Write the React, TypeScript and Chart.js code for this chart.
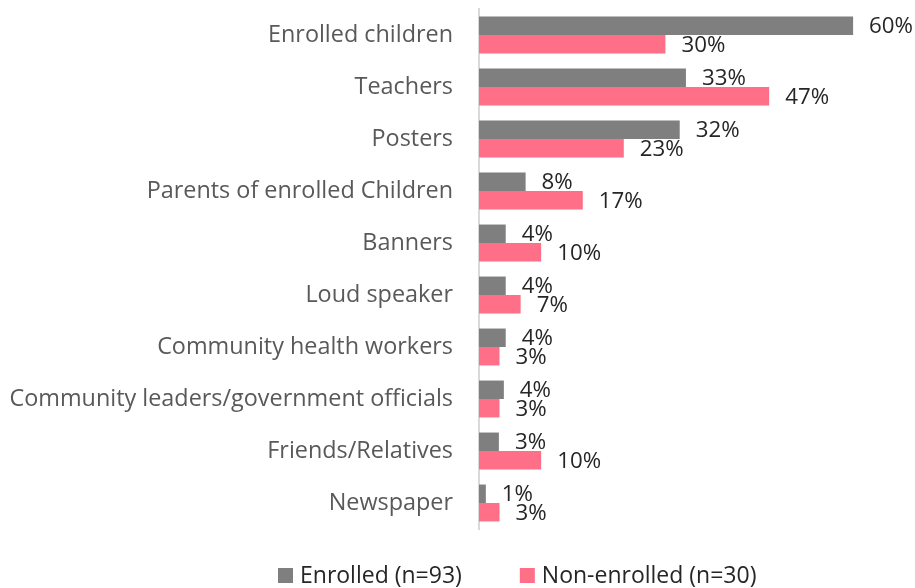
import React, { useEffect, useRef } from "react";
import { Chart, registerables } from "chart.js";

Chart.register(...registerables);

const categories = [
  "Enrolled children",
  "Teachers",
  "Posters",
  "Parents of enrolled Children",
  "Banners",
  "Loud speaker",
  "Community health workers",
  "Community leaders/government officials",
  "Friends/Relatives",
  "Newspaper",
];
const enrolledLabel = "Enrolled (n=93)";
const nonEnrolledLabel = "Non-enrolled (n=30)";
const enrolled = [60.2, 33.3, 32.3, 7.5, 4.3, 4.3, 4.3, 4.0, 3.2, 1.1];
const nonEnrolled = [30.0, 46.7, 23.3, 16.7, 10.0, 6.7, 3.3, 3.3, 10.0, 3.3];

const GREY = "#7f7f7f";
const PINK = "#ff6f87";
const FONT = "'Open Sans', sans-serif";

const dataLabelPlugin = {
  id: "dataLabels",
  afterDatasetsDraw(chart: any) {
    const ctx = chart.ctx;
    ctx.save();
    ctx.font = `22.3px ${FONT}`;
    ctx.fillStyle = "#262626";
    ctx.textAlign = "left";
    ctx.textBaseline = "middle";
    chart.data.datasets.forEach((ds: any, di: number) => {
      const meta = chart.getDatasetMeta(di);
      meta.data.forEach((bar: any, i: number) => {
        const v = ds.data[i];
        ctx.fillText(`${Math.round(v)}%`, bar.x + 16, bar.y + 1);
      });
    });
    ctx.restore();
  },
};

const legendPlugin = {
  id: "customLegend",
  afterDraw(chart: any) {
    const ctx = chart.ctx;
    ctx.save();
    ctx.font = `23px ${FONT}`;
    ctx.textBaseline = "middle";
    ctx.textAlign = "left";
    let x = 278;
    const y = 576;
    chart.data.datasets.forEach((ds: any) => {
      ctx.fillStyle = ds.backgroundColor;
      ctx.fillRect(x, y - 8, 15, 15);
      ctx.fillStyle = "#262626";
      ctx.fillText(ds.label, x + 22, y);
      x += 22 + ctx.measureText(ds.label).width + 58;
    });
    ctx.restore();
  },
};

export default function App() {
  const ref = useRef<HTMLCanvasElement>(null);
  useEffect(() => {
    if (!ref.current) return;
    const chart = new Chart(ref.current, {
      type: "bar",
      data: {
        labels: categories,
        datasets: [
          { label: enrolledLabel, data: enrolled, backgroundColor: GREY, categoryPercentage: 0.71, barPercentage: 1 },
          { label: nonEnrolledLabel, data: nonEnrolled, backgroundColor: PINK, categoryPercentage: 0.71, barPercentage: 1 },
        ],
      },
      options: {
        indexAxis: "y",
        responsive: false,
        animation: false,
        layout: { padding: { top: 9, bottom: 59, left: 0, right: 1 } },
        plugins: { legend: { display: false }, tooltip: { enabled: false } },
        scales: {
          x: { display: false, min: 0, max: 70 },
          y: {
            grid: { display: false, drawTicks: false },
            border: { display: true, color: "#d9d9d9", width: 2 },
            ticks: { color: "#595959", font: { family: FONT, size: 23.4 }, padding: 26 },
            afterFit(scale: any) {
              scale.width = 479;
              scale.paddingTop = 0;
              scale.paddingBottom = 0;
            },
          },
        },
      },
      plugins: [dataLabelPlugin, legendPlugin],
    });
    return () => chart.destroy();
  }, []);
  return (
    <div style={{ position: "absolute", left: 0, top: 0, width: 915, height: 588, background: "#fff" }}>
      <canvas ref={ref} width={915} height={588} style={{ display: "block" }} />
    </div>
  );
}
